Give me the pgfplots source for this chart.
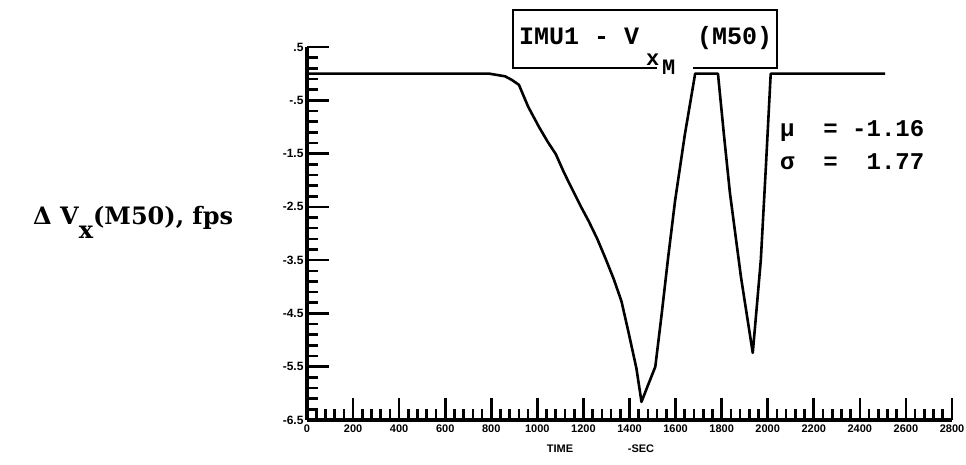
\documentclass[border=0pt]{standalone}
\usepackage{pgfplots}
\pgfplotsset{compat=1.18}
\usepackage{fontspec}
\setmainfont{Liberation Serif}
\newfontfamily\typew{Liberation Mono}
\newfontfamily\labserif{DejaVu Serif}
\newfontfamily\ticksf{Liberation Sans}

\begin{document}
\begin{tikzpicture}[x=1pt,y=1pt]
\path[use as bounding box] (0,0) rectangle (966,464);
\begin{axis}[at={(307pt,44pt)}, anchor=south west,
  width=645pt, height=373pt, scale only axis,
  xmin=0, xmax=2800, ymin=-6.5, ymax=0.5,
  axis x line=bottom, axis y line=left,
  axis line style={-, line width=3.2pt, black},
  xtick={0,200,400,600,800,1000,1200,1400,1600,1800,2000,2200,2400,2600,2800},
  xticklabels={0,200,400,600,800,1000,1200,1400,1600,1800,2000,2200,2400,2600,2800},
  ytick={0.5,-0.5,-1.5,-2.5,-3.5,-4.5,-5.5,-6.5},
  yticklabels={.5,-.5,-1.5,-2.5,-3.5,-4.5,-5.5,-6.5},
  minor x tick num=4, minor y tick num=4,
  tick align=inside,
  major tick length=22pt, minor tick length=11pt,
  every tick/.style={black, line width=2.6pt},
  yticklabel style={font=\ticksf\bfseries\fontsize{12}{12}\selectfont},
  xticklabel style={font=\ticksf\bfseries\fontsize{11}{11}\selectfont, yshift=-1pt},
  clip=false,
]
\addplot[black, line width=2.6pt, line join=round] coordinates {
(0,0) (791,0) (860,-0.05) (890,-0.12) (920,-0.21) (960,-0.62) (1007,-1.0)
(1045,-1.28) (1080,-1.51) (1115,-1.85) (1149,-2.15) (1186,-2.47)
(1223,-2.77) (1260,-3.10) (1296,-3.47) (1332,-3.86) (1365,-4.27) (1395,-4.84)
(1430,-5.53) (1452,-6.16) (1480,-5.85) (1512,-5.50) (1540,-4.50) (1568,-3.44)
(1598,-2.38) (1640,-1.15) (1685,0) (1784,0) (1810,-1.15) (1836,-2.24)
(1884,-3.82) (1935,-5.24) (1952,-4.40) (1970,-3.50) (1992,-1.75) (2013,0) (2510,0)
};
\end{axis}
% title box
\draw[line width=2.5pt] (513,454) rectangle (777,396);
\fill[white] (657,392) rectangle (693,400);
\node[anchor=base west, inner sep=0] at (519,419) {\typew\bfseries\fontsize{25}{25}\selectfont IMU1 - V};
\node[anchor=base west, inner sep=0] at (646,398) {\typew\bfseries\fontsize{22}{22}\selectfont x};
\node[anchor=base west, inner sep=0] at (662,389) {\typew\bfseries\fontsize{22}{22}\selectfont M};
\node[anchor=base west, inner sep=0] at (697,419) {\typew\bfseries\fontsize{25}{25}\selectfont (M50)};
% stats
\node[anchor=base west, inner sep=0] at (780,327) {\typew\bfseries\fontsize{24}{24}\selectfont μ\ \ =\ -1.16};
\node[anchor=base west, inner sep=0] at (780,294) {\typew\bfseries\fontsize{24}{24}\selectfont σ\ \ =\ \ 1.77};
% y label
\node[anchor=base west, inner sep=0] at (33,240) {\labserif\bfseries\fontsize{24}{24}\selectfont Δ V\raisebox{-14pt}{x}(M50), fps};
% x label
\node[anchor=base, inner sep=0] at (560,12) {\ticksf\bfseries\fontsize{11}{11}\selectfont TIME};
\node[anchor=base, inner sep=0] at (641,12) {\ticksf\bfseries\fontsize{11}{11}\selectfont -SEC};
\end{tikzpicture}
\end{document}
